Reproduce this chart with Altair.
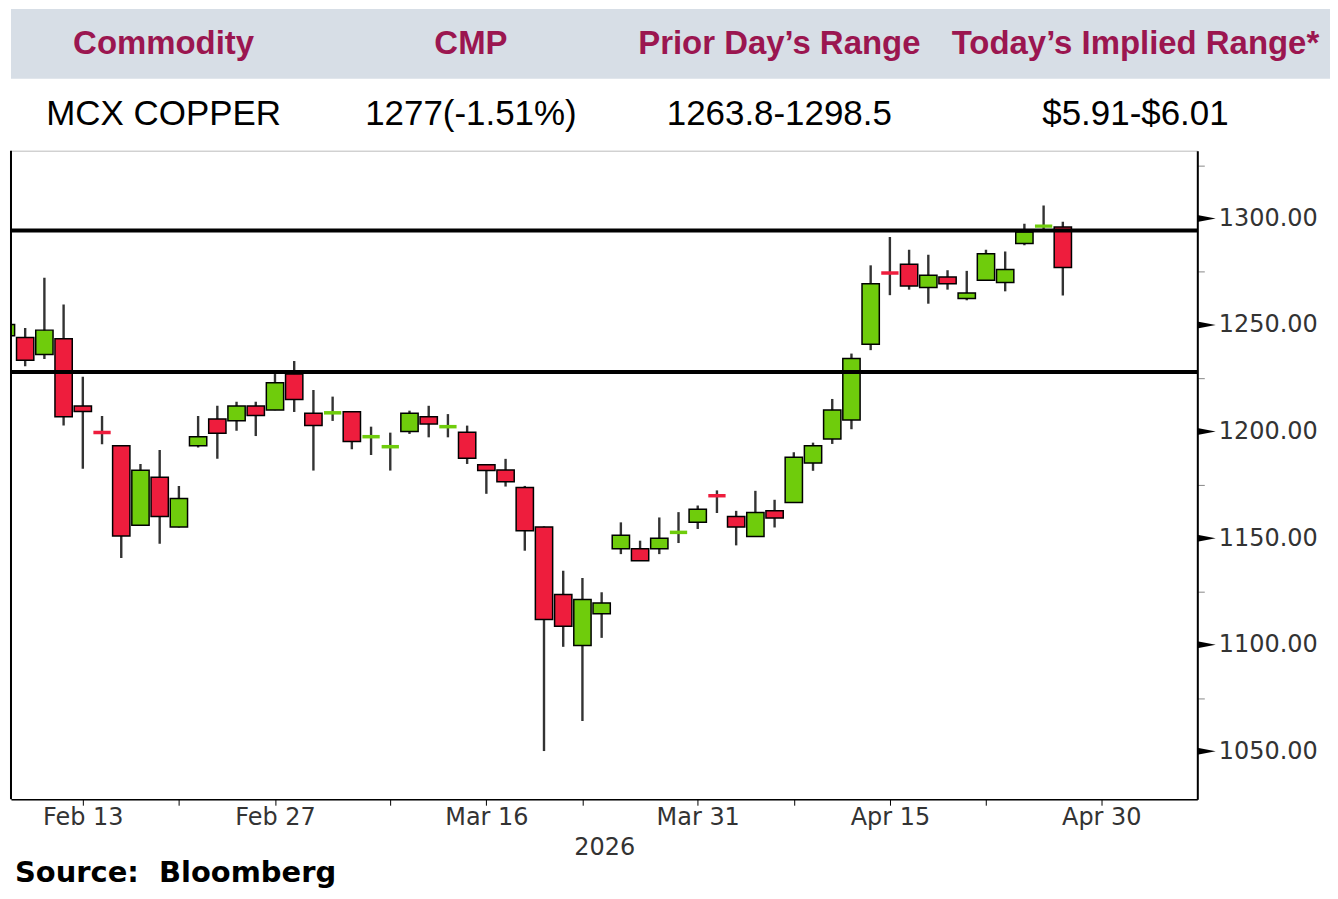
import altair as alt
import pandas as pd

# ---------------- data ----------------
day_index = list(range(56))
opens = [1245.0, 1244.1, 1236.2, 1243.5, 1212.0, 1199.8, 1193.4, 1156.0, 1178.6, 1155.2,
         1193.4, 1205.9, 1205.1, 1212.0, 1210.1, 1227.0, 1208.6, 1208.6, 1209.3, 1197.4,
         1192.7, 1200.0, 1207.0, 1202.1, 1199.7, 1184.4, 1182.0, 1173.7, 1155.2, 1123.5,
         1099.6, 1114.5, 1145.0, 1145.0, 1145.0, 1152.5, 1157.5, 1170.1, 1160.2, 1150.8,
         1162.8, 1166.7, 1185.2, 1196.5, 1205.4, 1241.0, 1274.6, 1278.5, 1267.6, 1272.5,
         1262.4, 1271.0, 1269.9, 1288.2, 1296.2, 1296.0]
highs = [1252.0, 1248.6, 1272.2, 1259.6, 1225.7, 1207.3, 1193.6, 1184.8, 1191.4, 1174.5,
         1207.3, 1212.1, 1214.0, 1214.0, 1227.0, 1233.1, 1219.5, 1216.4, 1209.6, 1202.3,
         1199.5, 1209.8, 1212.1, 1208.2, 1202.8, 1184.6, 1187.2, 1174.5, 1155.5, 1134.7,
         1131.3, 1124.6, 1157.4, 1148.8, 1159.7, 1162.2, 1165.3, 1172.4, 1162.8, 1172.2,
         1168.0, 1190.3, 1194.8, 1215.3, 1236.6, 1278.0, 1291.3, 1285.3, 1283.0, 1275.7,
         1275.4, 1285.3, 1284.5, 1297.5, 1306.1, 1298.5]
lows = [1243.0, 1230.7, 1234.1, 1202.8, 1182.5, 1194.0, 1140.7, 1155.8, 1147.4, 1155.0,
        1192.5, 1187.2, 1200.4, 1197.9, 1210.0, 1209.2, 1181.7, 1205.0, 1191.7, 1189.0,
        1181.7, 1198.9, 1197.3, 1197.3, 1184.8, 1170.8, 1174.2, 1144.1, 1050.1, 1099.0,
        1064.2, 1103.2, 1142.5, 1139.4, 1142.5, 1147.7, 1154.3, 1161.8, 1146.6, 1150.6,
        1155.0, 1166.5, 1181.6, 1194.2, 1201.1, 1238.2, 1264.0, 1266.6, 1260.0, 1266.6,
        1261.6, 1270.8, 1265.8, 1287.4, 1294.0, 1263.8]
closes = [1250.2, 1233.5, 1247.6, 1207.0, 1209.4, 1199.4, 1151.0, 1181.9, 1160.2, 1168.6,
          1197.6, 1199.2, 1212.0, 1207.5, 1222.9, 1215.1, 1202.8, 1209.0, 1195.3, 1197.8,
          1193.1, 1208.6, 1203.6, 1202.5, 1187.5, 1181.7, 1176.5, 1153.5, 1111.8, 1108.7,
          1121.2, 1119.6, 1151.3, 1139.4, 1150.0, 1152.9, 1163.6, 1169.7, 1155.2, 1162.0,
          1159.4, 1188.0, 1193.4, 1210.1, 1234.3, 1269.4, 1274.2, 1268.3, 1273.3, 1269.4,
          1265.0, 1283.4, 1276.1, 1293.6, 1296.6, 1277.0]

tick_index = [4, 9, 14, 20, 25, 30, 36, 41, 46, 51, 57]
label_index = [4, 14, 25, 36, 46, 57]
label_text = ["Feb 13", "Feb 27", "Mar 16", "Mar 31", "Apr 15", "Apr 30"]
y_tick_values = [1050, 1075, 1100, 1125, 1150, 1175, 1200, 1225, 1250, 1275, 1300, 1325]
y_major_values = [1050, 1100, 1150, 1200, 1250, 1300]
level_values = [1294.4, 1228.0]

header_cols = ["Commodity", "CMP", "Prior Day\u2019s Range", "Today\u2019s Implied Range*"]
row_values = ["MCX COPPER", "1277(-1.51%)", "1263.8-1298.5", "$5.91-$6.01"]

# ---------------- layout / style ----------------
header_pos = [0.1157, 0.3487, 0.5825, 0.8525]
X_DOMAIN = [0.262, 61.998]
Y_DOMAIN = [1027.5, 1331.8]
RED = "#ee1d3d"
GREEN = "#6fcc0c"
MAROON = "#9b1650"
AXIS_FONT = "DejaVu Sans"
HEAD_FONT = "Liberation Sans"

candles = pd.DataFrame({"i": day_index, "o": opens, "h": highs, "l": lows, "c": closes})

xs = alt.Scale(domain=X_DOMAIN, nice=False, zero=False)
ys = alt.Scale(domain=Y_DOMAIN, nice=False, zero=False)

label_expr = " : ".join(
    [f"datum.value == {v} ? '{t}'" for v, t in zip(label_index, label_text)]
) + " : ''"

x_axis = alt.Axis(values=tick_index, labelExpr=label_expr, tickSize=6, tickColor="black",
                  domainColor="black", domainWidth=1.5, labelFont=AXIS_FONT, labelFontSize=24,
                  labelColor="#333333", labelPadding=0, labelOverlap=False, labelBound=False,
                  labelFlush=False, grid=False, title="2026", titleFont=AXIS_FONT,
                  titleFontSize=24, titleFontWeight="normal", titleColor="#333333",
                  titlePadding=6)
y_axis = alt.Axis(orient="right", values=y_tick_values,
                  labelExpr="datum.value % 50 == 0 ? format(datum.value, '.2f') : ''",
                  tickSize=7, tickColor="#888888", domainColor="black", domainWidth=2,
                  labelPadding=14, labelFont=AXIS_FONT, labelFontSize=24, labelColor="#333333",
                  labelBaseline="middle", labelOverlap=False, labelBound=False, labelFlush=False,
                  grid=False, title=None)

base = alt.Chart(candles).transform_calculate(
    x0="datum.i - 0.45", x1="datum.i + 0.45",
    dir="datum.c >= datum.o ? 'up' : 'down'",
    mid="(datum.o + datum.c) / 2",
)
color_enc = alt.Color("dir:N", scale=alt.Scale(domain=["up", "down"], range=[GREEN, RED]), legend=None)

wicks = base.mark_rule(color="#333333", strokeWidth=2.4, clip=True).encode(
    x=alt.X("i:Q", scale=xs, axis=x_axis),
    y=alt.Y("l:Q", scale=ys, axis=y_axis),
    y2="h:Q",
)
bodies = base.transform_filter("abs(datum.c - datum.o) >= 1").mark_rect(
    stroke="black", strokeWidth=1.5, clip=True
).encode(
    x=alt.X("x0:Q", scale=xs, axis=x_axis), x2="x1:Q",
    y=alt.Y("o:Q", scale=ys, axis=y_axis), y2="c:Q",
    color=color_enc,
)
dojis = base.transform_filter("abs(datum.c - datum.o) < 1").mark_rule(
    strokeWidth=3.5, clip=True
).encode(
    x=alt.X("x0:Q", scale=xs, axis=x_axis), x2="x1:Q",
    y=alt.Y("mid:Q", scale=ys, axis=y_axis),
    color=color_enc,
)
levels = alt.Chart(pd.DataFrame({"v": level_values})).mark_rule(
    color="black", strokeWidth=4
).encode(y=alt.Y("v:Q", scale=ys, axis=y_axis))

left_border = alt.Chart(pd.DataFrame({"v": [X_DOMAIN[0]]})).mark_rule(
    color="black", strokeWidth=2
).encode(x=alt.X("v:Q", scale=xs, axis=x_axis))

arrows = alt.Chart(pd.DataFrame({"v": y_major_values})).mark_point(
    shape="M0,-0.38L2,0L0,0.38Z", filled=True, color="black", opacity=1, size=340
).encode(
    x=alt.datum(X_DOMAIN[1], scale=xs, axis=x_axis),
    y=alt.Y("v:Q", scale=ys, axis=y_axis),
)

main = alt.layer(wicks, bodies, dojis, levels, left_border, arrows).properties(
    width=1189, height=650,
    view=alt.ViewBackground(stroke="#bbbbbb"),
    title=alt.TitleParams("Source:\u00a0 Bloomberg", orient="bottom", anchor="start",
                          font=AXIS_FONT, fontWeight="bold", fontSize=29, color="black",
                          offset=0, dx=6),
)

# ---------------- header table ----------------
hdr = pd.DataFrame({
    "pos": header_pos * 2,
    "row": [0.5] * 4 + [1.5] * 4,
    "txt": header_cols + row_values,
    "kind": ["head"] * 4 + ["val"] * 4,
})
hx = alt.Scale(domain=[0, 1], nice=False, zero=False)
hy = alt.Scale(domain=[0, 2], nice=False, zero=False, reverse=True)

band = alt.Chart(pd.DataFrame({"r0": [0], "r1": [1]})).mark_rect(color="#d7dee6").encode(
    y=alt.Y("r0:Q", scale=hy, axis=None), y2="r1:Q"
)
head_txt = alt.Chart(hdr).transform_filter("datum.kind == 'head'").mark_text(
    font=HEAD_FONT, fontWeight="bold", fontSize=33, color=MAROON, baseline="middle", align="center"
).encode(
    x=alt.X("pos:Q", scale=hx, axis=None),
    y=alt.Y("row:Q", scale=hy, axis=None),
    text="txt:N",
)
val_txt = alt.Chart(hdr).transform_filter("datum.kind == 'val'").mark_text(
    font=HEAD_FONT, fontSize=35, color="black", baseline="middle", align="center"
).encode(
    x=alt.X("pos:Q", scale=hx, axis=None),
    y=alt.Y("row:Q", scale=hy, axis=None),
    text="txt:N",
)
header = alt.layer(band, head_txt, val_txt).properties(
    width=1322, height=140, view=alt.ViewBackground(stroke=None)
)

chart = alt.vconcat(header, main, spacing=0).properties(
    padding={"left": 0, "top": 0, "right": 0, "bottom": 0}
).configure(background="white")

chart.save("out.html", embed_options={"renderer": "svg", "actions": False})
